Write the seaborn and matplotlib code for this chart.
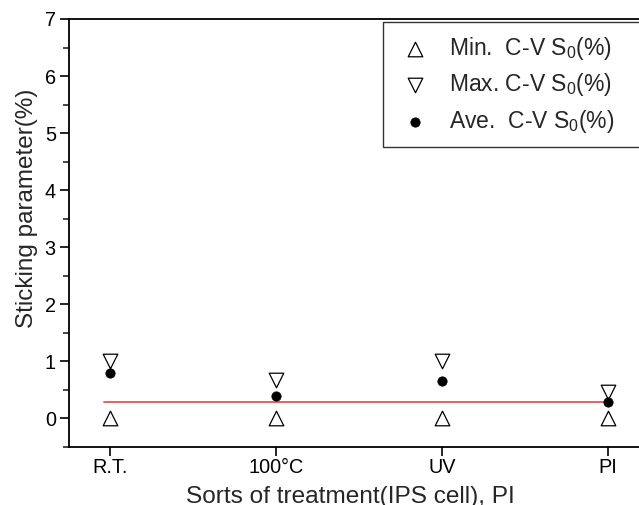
import matplotlib
matplotlib.use("Agg")
import matplotlib.pyplot as plt
import seaborn as sns
import pandas as pd
from matplotlib.ticker import MultipleLocator

# data
treatments = ["R.T.", "100°C", "UV", "PI"]
min_s0 = [0.0, 0.0, 0.0, 0.0]
max_s0 = [1.01, 0.67, 1.01, 0.47]
ave_s0 = [0.80, 0.39, 0.65, 0.28]
ref_line_x = [-0.036, 3.0]
ref_line_y = [0.28, 0.28]

sns.set_theme(style="ticks")
plt.rcParams["font.family"] = ["Liberation Sans", "DejaVu Sans"]
plt.rcParams["mathtext.default"] = "regular"

df = pd.DataFrame({"pos": range(len(treatments)), "min": min_s0, "max": max_s0, "ave": ave_s0})

fig = plt.figure(figsize=(6.39, 5.05), dpi=100)
ax = fig.add_axes([69 / 639, 1 - 447 / 505, (641 - 69) / 639, (447 - 19) / 505])

sns.lineplot(x=ref_line_x, y=ref_line_y, color="#f05050", linewidth=1.3, ax=ax)
sns.scatterplot(data=df, x="pos", y="min", marker="^", s=110, facecolor="white",
                edgecolor="black", linewidth=0.9, label="Min.  C-V S$_0$(%)", ax=ax, zorder=3)
sns.scatterplot(data=df, x="pos", y="max", marker="v", s=110, facecolor="white",
                edgecolor="black", linewidth=0.9, label="Max. C-V S$_0$(%)", ax=ax, zorder=3)
sns.scatterplot(data=df, x="pos", y="ave", marker="o", s=45, color="black",
                edgecolor="black", label="Ave.  C-V S$_0$(%)", ax=ax, zorder=4)

ax.set_xlim(-0.247, 3.2)
ax.set_ylim(-0.5, 7)
ax.set_xticks(range(len(treatments)))
ax.set_xticklabels(treatments)
ax.yaxis.set_major_locator(MultipleLocator(1))
ax.yaxis.set_minor_locator(MultipleLocator(0.5))
ax.tick_params(axis="both", which="major", direction="out", length=6.5, width=1.2,
               labelsize=14.3, colors="black", pad=3)
ax.tick_params(axis="x", which="major", pad=1.5)
ax.tick_params(axis="y", which="minor", direction="out", length=4.3, width=1.2)
for sp in ax.spines.values():
    sp.set_linewidth(1.3)
    sp.set_color("black")

ax.set_xlabel("Sorts of treatment(IPS cell), PI", fontsize=17.6)
ax.set_ylabel("Sticking parameter(%)", fontsize=17.5)
ax.xaxis.set_label_coords((350 - 69) / (641 - 69), -0.091)
ax.yaxis.set_label_coords(-0.054, 0.558)

leg = ax.legend(loc="upper left", bbox_to_anchor=(0.549, 0.5, 0.48, 0.493), mode="expand",
                fontsize=16.5, frameon=True, fancybox=False, edgecolor="black",
                labelspacing=0.42, handlelength=1.7, handletextpad=0.65,
                borderpad=0.55, borderaxespad=0)
leg.get_frame().set_linewidth(1.0)

fig.savefig("out.png", dpi=100)
